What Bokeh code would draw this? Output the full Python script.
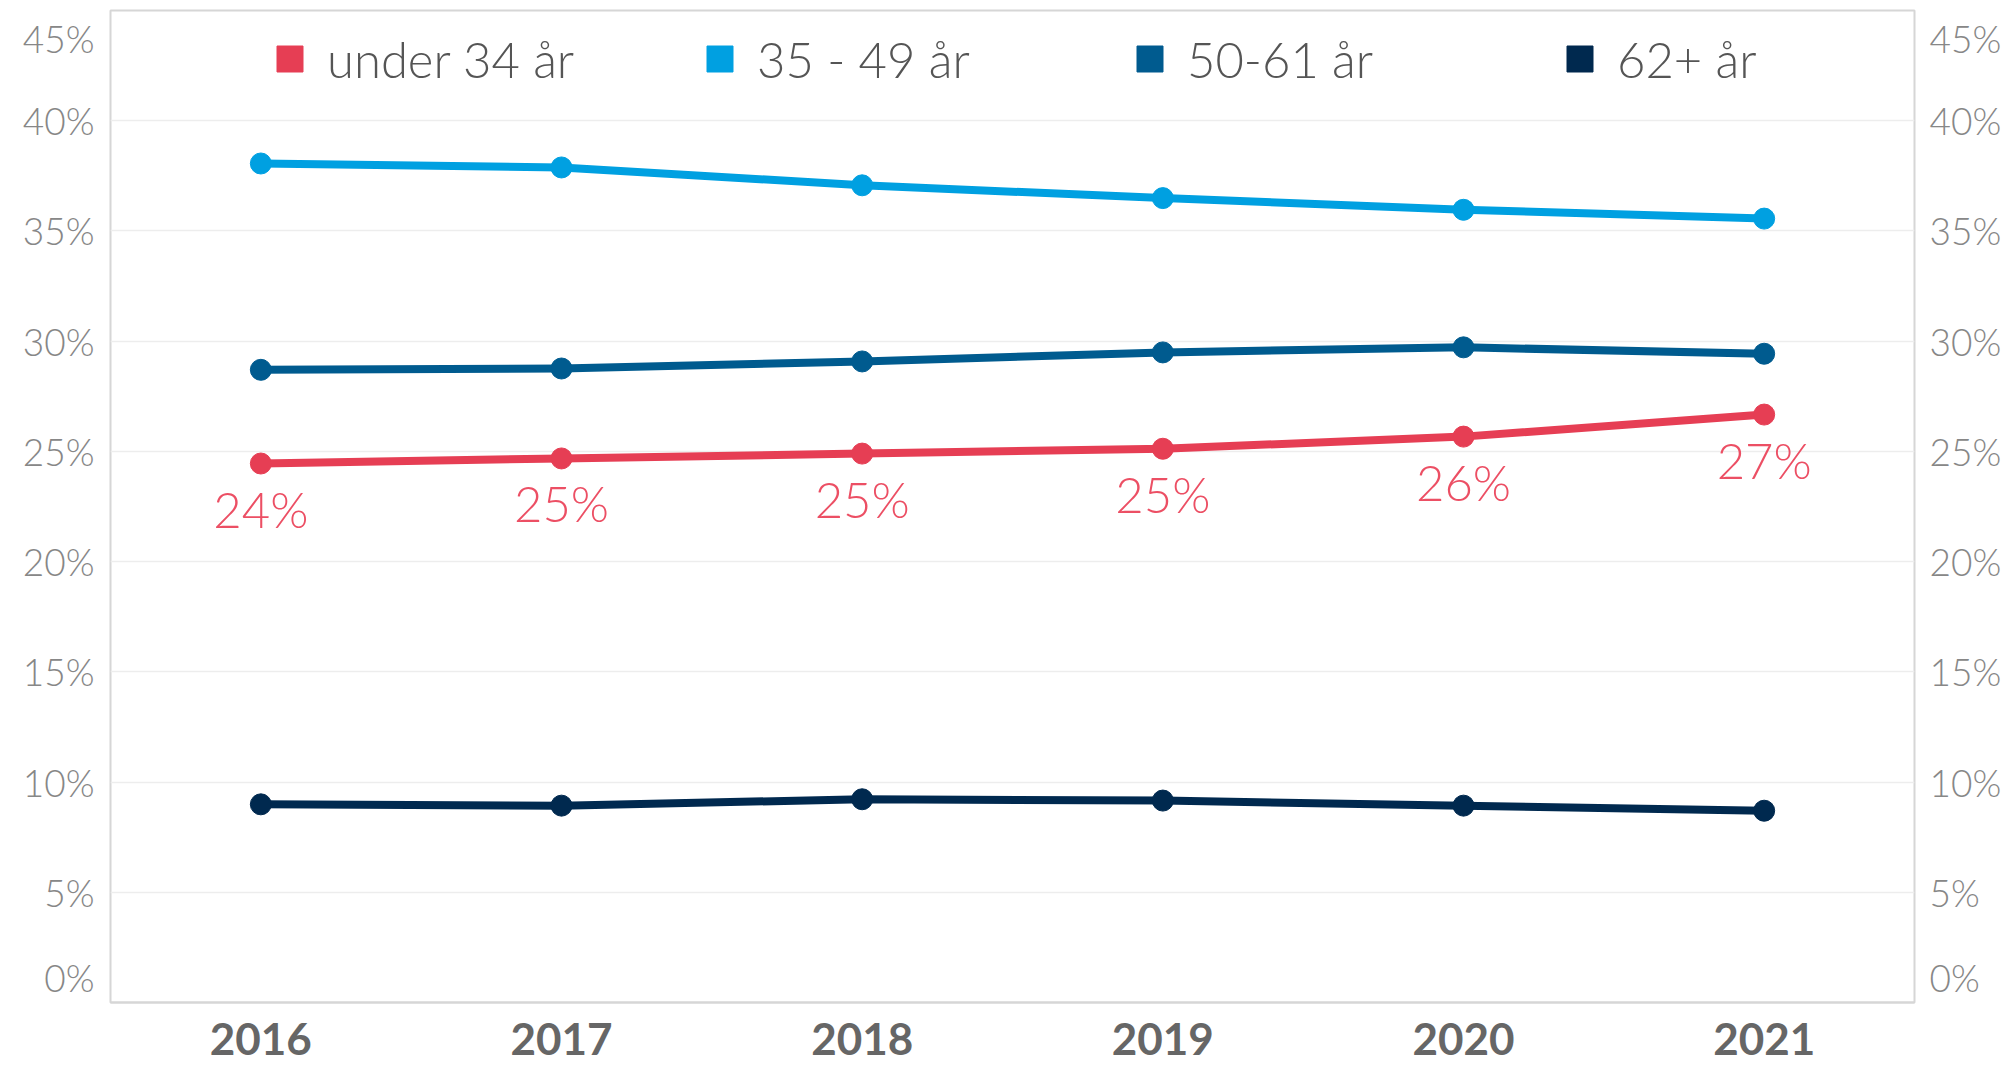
from bokeh.plotting import figure
from bokeh.models import FixedTicker, CustomJSTickFormatter, LinearAxis, Legend, LegendItem
from bokeh.core.properties import value
from bokeh.embed import file_html
from bokeh.resources import INLINE

# ---- data ----
years = ["2016", "2017", "2018", "2019", "2020", "2021"]
series_names = ["under 34 år", "35 - 49 år", "50-61 år", "62+ år"]
under_34 = [24.45, 24.68, 24.90, 25.12, 25.67, 26.67]
age_35_49 = [38.06, 37.88, 37.07, 36.49, 35.96, 35.56]
age_50_61 = [28.70, 28.76, 29.08, 29.49, 29.72, 29.43]
age_62_plus = [8.99, 8.93, 9.22, 9.16, 8.93, 8.70]
y_ticks = [0, 5, 10, 15, 20, 25, 30, 35, 40, 45]

colors = ["#E63E54", "#00A0E1", "#005B8F", "#00294F"]
series = [under_34, age_35_49, age_50_61, age_62_plus]

FONT = "Lato"
LIGHT = "Lato Light, Lato"
TICK_COLOR = "#878787"
BORDER = "#D6D6D6"

W, H = 2010, 1068
B_LEFT, B_RIGHT, B_TOP, B_BOTTOM = 110, 96, 10, 66
FRAME_H = H - B_TOP - B_BOTTOM

p = figure(width=W, height=H, x_range=years, y_range=(y_ticks[0], y_ticks[-1]),
           output_backend="svg", toolbar_location=None,
           min_border_left=B_LEFT, min_border_right=B_RIGHT,
           min_border_top=B_TOP, min_border_bottom=B_BOTTOM)
p.background_fill_color = "white"
p.border_fill_color = "white"
p.outline_line_color = BORDER
p.outline_line_width = 2

inner_ticks = y_ticks[1:-1]
# like the original, the first and last tick labels are nudged inside the frame
span = y_ticks[-1] - y_ticks[0]
edge_lo = y_ticks[0] + 25 * span / FRAME_H
edge_hi = y_ticks[-1] - 28 * span / FRAME_H
label_ticks = [edge_lo] + inner_ticks + [edge_hi]
step = y_ticks[1] - y_ticks[0]
pct_fmt = CustomJSTickFormatter(args=dict(step=step),
                                code="return (Math.round(tick / step) * step) + '%';")

def style_y(ax, standoff):
    ax.ticker = FixedTicker(ticks=label_ticks)
    ax.formatter = pct_fmt
    ax.axis_line_color = None
    ax.major_tick_line_color = None
    ax.minor_tick_line_color = None
    ax.major_tick_out = 0
    ax.major_tick_in = 0
    ax.major_label_standoff = standoff
    ax.major_label_text_font = LIGHT
    ax.major_label_text_font_size = "37px"
    ax.major_label_text_color = TICK_COLOR

style_y(p.yaxis[0], 16)
right_ax = LinearAxis()
style_y(right_ax, 15)
p.add_layout(right_ax, "right")

p.ygrid.ticker = FixedTicker(ticks=inner_ticks)
p.ygrid.grid_line_color = "#EDEDED"
p.ygrid.grid_line_width = 1.5
p.xgrid.grid_line_color = None

xa = p.xaxis[0]
xa.axis_line_color = BORDER
xa.axis_line_width = 2
xa.major_tick_line_color = None
xa.minor_tick_line_color = None
xa.major_tick_out = 0
xa.major_label_standoff = 20
xa.major_label_text_font = FONT
xa.major_label_text_font_style = "bold"
xa.major_label_text_font_size = "44px"
xa.major_label_text_color = "#666666"

legend_items = []
for name, vals, c in zip(series_names, series, colors):
    p.line(years, vals, line_width=8, line_color=c, line_join="round", line_cap="round")
    p.scatter(years, vals, size=21, fill_color=c, line_color=c)
    key = p.scatter(years, vals, marker="square", size=0, fill_color=c, line_color=c)
    legend_items.append(LegendItem(label=name, renderers=[key]))

p.text(x=years, y=under_34, text=[f"{v:.0f}%" for v in under_34],
       text_align="center", text_baseline="middle", y_offset=45,
       text_font=value(LIGHT), text_font_size=value("49px"), text_color="#EC4F64")

legend = Legend(items=legend_items, orientation="horizontal", location=(147, 911),
                glyph_width=65, glyph_height=65, label_standoff=5, label_width=355,
                spacing=5, padding=0, margin=0, border_line_color=None,
                background_fill_alpha=0, label_text_font=LIGHT,
                label_text_font_size="49px", label_text_color="#555555")
p.add_layout(legend)

open("out.html", "w").write(file_html(p, INLINE))
